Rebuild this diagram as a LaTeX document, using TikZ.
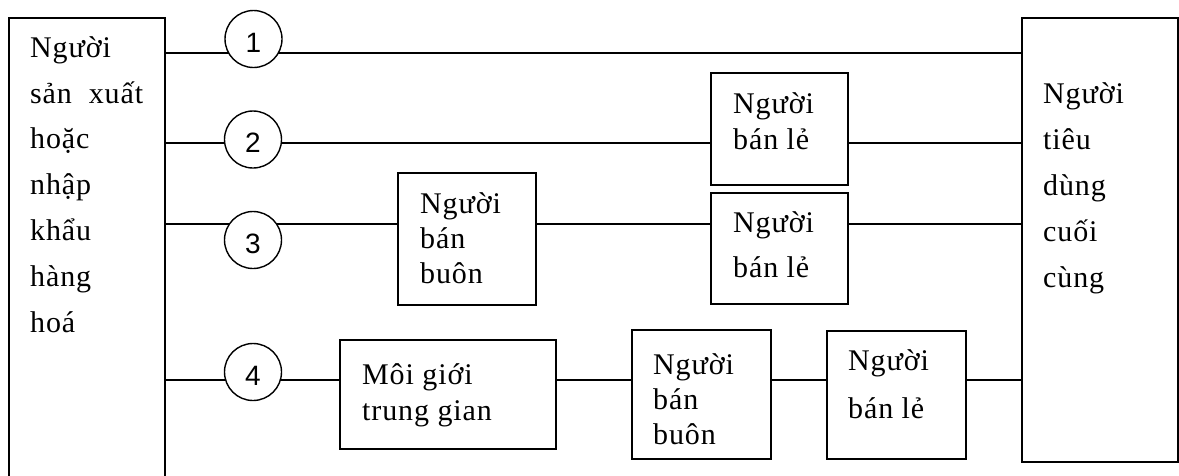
\documentclass[tikz,border=0pt]{standalone}
\usepackage{fontspec}
\setmainfont{Liberation Serif}[LetterSpace=3]
\newfontfamily\digitfont{Liberation Sans}
\begin{document}
\begin{tikzpicture}[x=1pt,y=-1pt,
  box/.style={draw,line width=1.4pt,rectangle,inner sep=0pt,outer sep=0pt},
  num/.style={draw,line width=1.4pt,circle,fill=white,minimum size=57pt,inner sep=0pt,
    font=\digitfont\fontsize{28}{28}\selectfont,text height=26pt,text depth=0pt},
  link/.style={line width=1.4pt},
  txt/.style={anchor=base west,align=left,inner sep=0pt}]
\useasboundingbox (0,0) rectangle (1179,475);

% end boxes
\node[box,minimum width=156pt,minimum height=482pt] (L) at (87,259) {};
\node[box,minimum width=156pt,minimum height=444pt] (R) at (1100,240) {};

% intermediate boxes
\node[box,minimum width=137pt,minimum height=112pt] (bl2) at (779.5,129) {};
\node[box,minimum width=138pt,minimum height=132pt] (bb3) at (467,239) {};
\node[box,minimum width=137pt,minimum height=111pt] (bl3) at (779.5,248.5) {};
\node[box,minimum width=216pt,minimum height=109pt] (mg4) at (448,394.5) {};
\node[box,minimum width=139pt,minimum height=129pt] (bb4) at (701.5,394.5) {};
\node[box,minimum width=139pt,minimum height=128pt] (bl4) at (896.5,395) {};

% box texts (placed by the baseline of their last line)
\node[txt,font=\fontsize{30}{45.8}\selectfont] (tL) at (30,332)
  {Người\\sản\ \ xuất\\hoặc\\nhập\\khẩu\\hàng\\hoá};
\node[txt,font=\fontsize{30}{46}\selectfont] (tR) at (1043,287)
  {Người\\tiêu\\dùng\\cuối\\cùng};
\node[txt,font=\fontsize{30}{36}\selectfont] (tbl2) at (733,149) {Người\\bán lẻ};
\node[txt,font=\fontsize{30}{35}\selectfont] (tbb3) at (420,283) {Người\\bán\\buôn};
\node[txt,font=\fontsize{30}{45}\selectfont] (tbl3) at (733,277) {Người\\bán lẻ};
\node[txt,font=\fontsize{30}{36}\selectfont] (tmg4) at (362,420) {Môi giới\\trung gian};
\node[txt,font=\fontsize{30}{35}\selectfont] (tbb4) at (653,444) {Người\\bán\\buôn};
\node[txt,font=\fontsize{30}{48}\selectfont] (tbl4) at (848,418) {Người\\bán lẻ};

% channel levels
\coordinate (r1) at (0,53);
\coordinate (r2) at (0,143);
\coordinate (r3) at (0,224);
\coordinate (r4) at (0,380);

% channel 1
\draw[link] (L.east |- r1) -- (R.west |- r1);
% channel 2
\draw[link] (L.east |- r2) -- (bl2.west |- r2);
\draw[link] (bl2.east |- r2) -- (R.west |- r2);
% channel 3
\draw[link] (L.east |- r3) -- (bb3.west |- r3);
\draw[link] (bb3.east |- r3) -- (bl3.west |- r3);
\draw[link] (bl3.east |- r3) -- (R.west |- r3);
% channel 4
\draw[link] (L.east |- r4) -- (mg4.west |- r4);
\draw[link] (mg4.east |- r4) -- (bb4.west |- r4);
\draw[link] (bb4.east |- r4) -- (bl4.west |- r4);
\draw[link] (bl4.east |- r4) -- (R.west |- r4);

% channel numbers
\node[num] (c1) at (253.5,39) {1};
\node[num] (c2) at (253,139.5) {2};
\node[num] (c3) at (253,240) {3};
\node[num] (c4) at (253,372) {4};
\end{tikzpicture}
\end{document}
